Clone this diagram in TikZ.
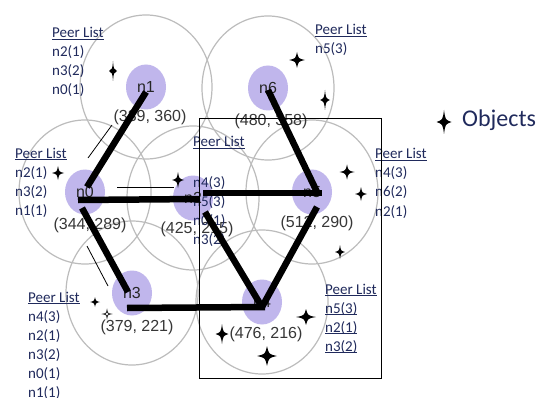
\documentclass[tikz,border=0pt]{standalone}
\usepackage{fontspec}
\setmainfont{Carlito}
\newfontfamily\arialf{Liberation Sans}
\usetikzlibrary{shapes.geometric,backgrounds}
\definecolor{lav}{RGB}{192,182,236}
\definecolor{rng}{RGB}{188,188,188}
\definecolor{navy}{RGB}{32,42,92}
\definecolor{coordc}{RGB}{55,55,55}
\newcommand\ulx[1]{\setbox0\hbox{#1}\rlap{\rule[-2.2pt]{\wd0}{1.1pt}}\box0}
\newcommand\plitem[1]{\hbox{#1}}
\tikzset{
  pnode/.style={ellipse, fill=lav, minimum width=40pt, minimum height=45pt, inner sep=0pt,
    font=\arialf\fontsize{16}{16}\selectfont, text=black!85},
  rangec/.style={draw=rng, line width=1.2pt},
  edgeline/.style={line width=6.5pt},
  coordl/.style={font=\arialf\fontsize{16}{16}\selectfont, text=coordc, inner sep=0pt},
  plist/.style={font=\fontsize{15}{19}\selectfont, text=navy, anchor=base west, inner sep=0pt},
  framebox/.style={draw, line width=1pt},
  thinline/.style={line width=0.8pt},
  objstar/.pic={\fill (0,-1) .. controls (0.18,-0.18) .. (1,0) .. controls (0.18,0.18) .. (0,1)
     .. controls (-0.18,0.18) .. (-1,0) .. controls (-0.18,-0.18) .. (0,-1) -- cycle;},
  objstaro/.pic={\draw[line width=0.6pt] (0,-1) .. controls (0.15,-0.15) .. (1,0) .. controls (0.15,0.15) .. (0,1)
     .. controls (-0.15,0.15) .. (-1,0) .. controls (-0.15,-0.15) .. (0,-1) -- cycle;}
}
\begin{document}
\begin{tikzpicture}[x=1pt,y=-1pt]
\useasboundingbox (0,0) rectangle (540,398);

% nodes
\node[pnode] (n1) at (146,87) {n1};
\node[pnode] (n6) at (268,88) {n6};
\node[pnode] (n0) at (85,192) {n0};
\node[pnode] (n2) at (193,198) {n2};
\node[pnode] (n5) at (312,192) {n5};
\node[pnode] (n3) at (132,293) {n3};
\node[pnode] (n4) at (262,302) {n4};

% background and range circles
\begin{pgfonlayer}{background}
\fill[white] (0,0) rectangle (540,398);
\foreach \n in {n1,n6,n0,n2,n5,n3,n4}
  \draw[rangec] (\n.center) ellipse [x radius=66, y radius=72];
\end{pgfonlayer}

% coordinate labels
\node[coordl] (c1) at (150,117) {(339, 360)};
\node[coordl] (c6) at (271,121) {(480, 358)};
\node[coordl] (c0) at (90,225) {(344, 289)};
\node[coordl] (c2) at (197,229) {(425, 215)};
\node[coordl] (c5) at (317,223) {(512, 290)};
\node[coordl] (c3) at (137,327) {(379, 221)};
\node[coordl] (c4) at (266,334) {(476, 216)};

% peer lists
\node[plist] (pl1) at (52,38) {\vtop{\plitem{\ulx{Peer List}}\plitem{n2(1)}\plitem{n3(2)}\plitem{n0(1)}}};
\node[plist] (pl6) at (315,35) {\vtop{\plitem{\ulx{Peer List}}\plitem{n5(3)}}};
\node[plist] (pl0) at (15,158) {\vtop{\plitem{\ulx{Peer List}}\plitem{n2(1)}\plitem{n3(2)}\plitem{n1(1)}}};
\node[plist] (pl2t) at (193,147) {\ulx{Peer List}};
\node[plist] (pl2) at (193,187) {\vtop{\plitem{n4(3)}\plitem{n5(3)}\plitem{n0(1)}\plitem{n3(2)}}};
\node[plist] (pl5) at (375,159) {\vtop{\plitem{\ulx{Peer List}}\plitem{n4(3)}\plitem{n6(2)}\plitem{n2(1)}}};
\node[plist] (pl3) at (28,302) {\vtop{\plitem{\ulx{Peer List}}\plitem{n4(3)}\plitem{n2(1)}\plitem{n3(2)}\plitem{n0(1)}\plitem{n1(1)}}};
\node[plist] (pl4) at (325,294) {\vtop{\plitem{\ulx{Peer List}}\plitem{\ulx{n5(3)}}\plitem{\ulx{n2(1)}}\plitem{\ulx{n3(2)}}}};

% region box
\draw[framebox] (199,119) rectangle (381,378);

% thin lines
\coordinate (t1a) at (88,158); \coordinate (t1b) at (112,125);
\coordinate (t2a) at (87,246); \coordinate (t2b) at (108,286);
\coordinate (t3a) at (117,187); \coordinate (t3b) at (174,187);
\draw[thinline] (t1a) -- (t1b);
\draw[thinline] (t2a) -- (t2b);
\draw[thinline] (t3a) -- (t3b);

% thick edges
\draw[edgeline] ([shift={(0,5)}]n1.center) -- ([shift={(2,-5)}]n0.center);
\draw[edgeline] ([shift={(-7,8)}]n0.center) -- ([shift={(7,1)}]n2.center);
\draw[edgeline] ([shift={(10,-5)}]n2.center) -- ([shift={(10,1)}]n5.center);
\draw[edgeline] ([shift={(0,2)}]n6.center) -- ([shift={(5,0)}]n5.center);
\draw[edgeline] ([shift={(5,15)}]n5.center) -- ([shift={(0,5)}]n4.center);
\draw[edgeline] ([shift={(12,14)}]n2.center) -- ([shift={(0,5)}]n4.center);
\draw[edgeline] ([shift={(-3,16)}]n0.center) -- ([shift={(-4,-1)}]n3.center);
\draw[edgeline] ([shift={(-5,15)}]n3.center) -- ([shift={(3,5)}]n4.center);

% objects
\pic[xscale=4,yscale=10] at (113,71) {objstar};
\pic[xscale=8,yscale=8] at (297,60) {objstar};
\pic[xscale=5,yscale=10] at (325,100) {objstar};
\pic[xscale=6,yscale=7] at (58,173) {objstar};
\pic[xscale=6,yscale=8] at (178,180) {objstar};
\pic[xscale=7.5,yscale=7.5] at (347,172) {objstar};
\pic[xscale=6,yscale=7] at (361,194) {objstar};
\pic[xscale=5,yscale=7] at (340,252) {objstar};
\pic[xscale=5,yscale=5] at (95,302) {objstar};
\pic[xscale=4,yscale=4] at (107,314) {objstaro};
\pic[xscale=10,yscale=8] at (306,317) {objstar};
\pic[xscale=6.5,yscale=10] at (222,334) {objstar};
\pic[xscale=10,yscale=10] at (267,356) {objstar};

% legend
\pic[xscale=7.5,yscale=12] at (444,122) {objstar};
\node[anchor=west, inner sep=0pt, font=\fontsize{24}{24}\selectfont, text=navy] (objlbl) at (462,120) {Objects};
\end{tikzpicture}
\end{document}
